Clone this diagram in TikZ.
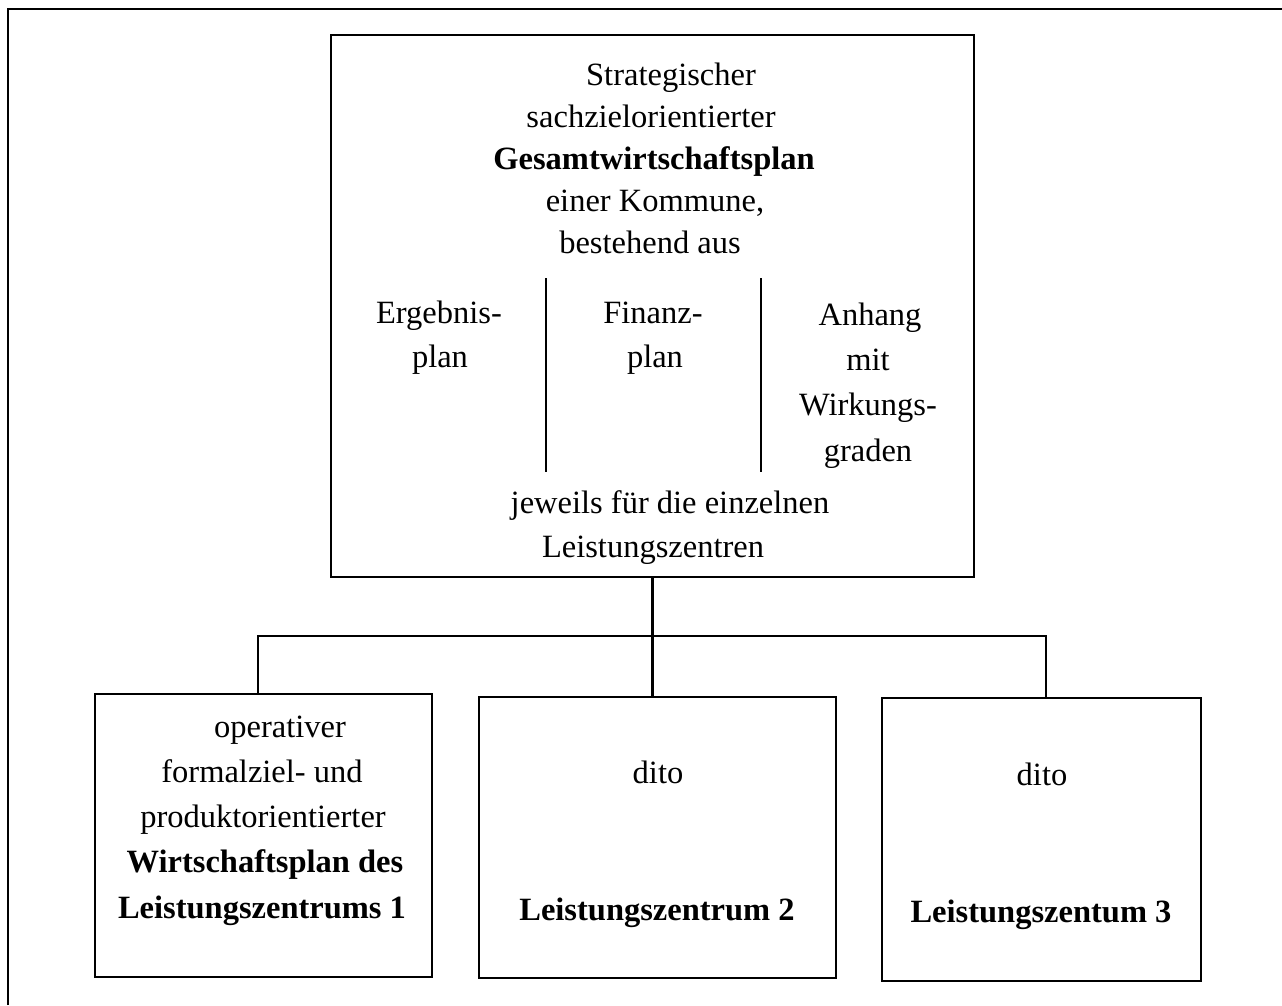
\documentclass[tikz,border=0pt]{standalone}
\usepackage{fontspec}
\setmainfont{Liberation Serif}
\begin{document}
\begin{tikzpicture}[x=1pt,y=-1pt,
  every node/.style={inner sep=0pt, outer sep=0pt},
  txt/.style={anchor=base, font=\fontsize{32.5}{42}\selectfont},
  btxt/.style={txt, font=\fontsize{32.5}{42}\selectfont\bfseries},
  box/.style={draw, line width=2.2pt, rectangle},
  wire/.style={line width=2.2pt},
  divider/.style={line width=2pt}]
\useasboundingbox (0,0) rectangle (1282,1005);
\fill[white] (0,0) rectangle (1282,1005);

% page frame, top and left edges
\draw[line width=2.6pt] (8,1005) -- (8,9) -- (1282,9);

% boxes
\node[box, minimum width=643pt, minimum height=542pt] (gesamt) at (652.5,306) {};
\node[box, minimum width=337pt, minimum height=283pt] (lz1) at (263.5,835.5) {};
\node[box, minimum width=357pt, minimum height=281pt] (lz2) at (657.5,837.5) {};
\node[box, minimum width=319pt, minimum height=283pt] (lz3) at (1041.5,839.5) {};

% tree connectors
\coordinate (barL) at (258,636);
\coordinate (barR) at (1046,636);
\draw[wire] (barL |- lz1.north) -- (barL) -- (barR) -- (barR |- lz3.north);
\draw[wire] (gesamt.south) -- (gesamt.south |- lz2.north);

% header of the overall plan
\node[txt]  (h1) at (671,85)  {Strategischer};
\node[txt]  (h2) at (651,127) {sachzielorientierter};
\node[btxt] (h3) at (654,169) {Gesamtwirtschaftsplan};
\node[txt]  (h4) at (655,211) {einer Kommune,};
\node[txt]  (h5) at (650,253) {bestehend aus};

% three parts
\draw[divider] (546,278) -- (546,472);
\draw[divider] (761,278) -- (761,472);
\node[txt] (e1) at (439,323) {Ergebnis-};
\node[txt] (e2) at (440,367) {plan};
\node[txt] (f1) at (653,323) {Finanz-};
\node[txt] (f2) at (655,367) {plan};
\node[txt] (a1) at (870,325) {Anhang};
\node[txt] (a2) at (868,370) {mit};
\node[txt] (a3) at (868,415) {Wirkungs-};
\node[txt] (a4) at (868,461) {graden};

% footer of the overall plan
\node[txt] (j1) at (670,513) {jeweils für die einzelnen};
\node[txt] (j2) at (653,557) {Leistungszentren};

% first operational plan
\node[txt]  (o1) at (280,737) {operativer};
\node[txt]  (o2) at (262,782) {formalziel- und};
\node[txt]  (o3) at (263,827) {produktorientierter};
\node[btxt] (o4) at (265,872) {Wirtschaftsplan des};
\node[btxt] (o5) at (262,918) {Leistungszentrums 1};

% second and third plans
\node[txt]  (d2) at (658,783) {dito};
\node[btxt] (n2) at (657,920) {Leistungszentrum 2};
\node[txt]  (d3) at (1042,785) {dito};
\node[btxt] (n3) at (1041,922) {Leistungszentum 3};
\end{tikzpicture}
\end{document}
